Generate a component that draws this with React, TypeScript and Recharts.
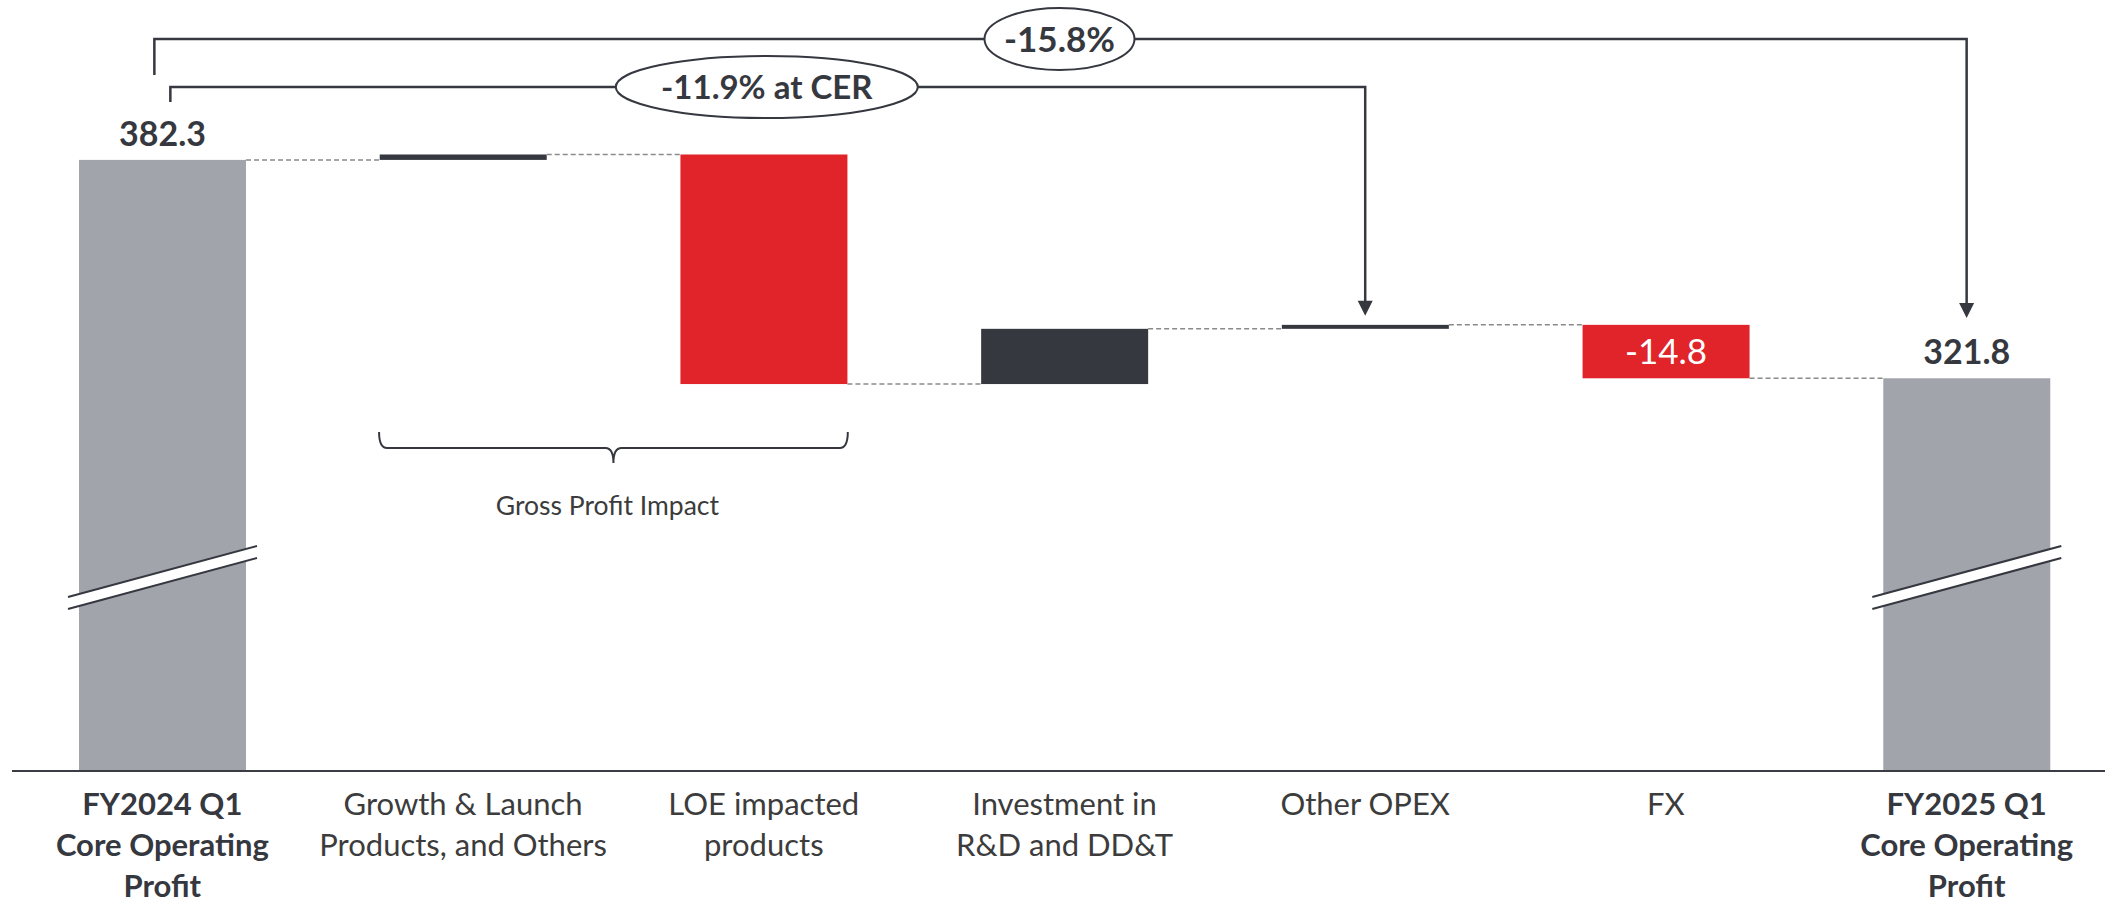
import React from "react";
import {
  BarChart,
  Bar,
  XAxis,
  YAxis,
  LabelList,
  ReferenceLine,
  ReferenceDot,
} from "recharts";

const categories = [
  "FY2024 Q1\nCore Operating\nProfit",
  "Growth & Launch\nProducts, and Others",
  "LOE impacted\nproducts",
  "Investment in\nR&D and DD&T",
  "Other OPEX",
  "FX",
  "FY2025 Q1\nCore Operating\nProfit",
];
const kinds = ["total", "delta", "delta", "delta", "delta", "delta", "total"];
const values = [382.3, 1.5, -63.6, 15.3, 1.1, -14.8, 321.8];
const valueLabels = ["382.3", "", "", "", "", "-14.8", "321.8"];

// axis is broken: the bottom of the plot is not zero
const yDomain = [213, 426.6];

const totalChange = { from: 0, to: 6, label: "-15.8%", level: 415.8, tip: 338.5 };
const cerChange = { from: 0, to: 4, label: "-11.9% at CER", level: 402.5, tip: 339.1 };
const grossImpact = { from: 1, to: 2, label: "Gross Profit Impact", level: 302.5 };

const FONT = "Lato, 'Open Sans', sans-serif";
const DARK = "#363840";
const GRAY = "#a2a4ac";
const RED = "#e1232a";
const GAP = 67;

let running = 0;
const data = categories.map((name, i) => {
  const v = values[i];
  if (kinds[i] === "total") {
    running = v;
    return { name, range: [yDomain[0], v], kind: "total", up: true, fill: GRAY };
  }
  const start = running;
  running += v;
  return {
    name,
    range: [Math.min(start, running), Math.max(start, running)],
    kind: "delta",
    up: v >= 0,
    fill: v >= 0 ? DARK : RED,
  };
});

function norm(p: any) {
  const top = Math.min(p.y, p.y + p.height);
  const h = Math.abs(p.height);
  return { x: p.x, w: p.width, top, h };
}

function WaterfallBar(props: any) {
  const { payload, index } = props;
  const { x, w, top, h } = norm(props);
  const endY = payload.kind === "total" || payload.up ? top : top + h;
  let brk = null;
  if (payload.kind === "total") {
    const cy = top + h - 193.5;
    const l = x - 11;
    const r = x + w + 11;
    const u1 = cy - 6 + 25.5;
    const u2 = cy - 6 - 25.5;
    brk = (
      <g>
        <polygon points={`${l},${u1} ${r},${u2} ${r},${u2 + 12} ${l},${u1 + 12}`} fill="#fff" />
        <line x1={l} y1={u1} x2={r} y2={u2} stroke={DARK} strokeWidth={2} />
        <line x1={l} y1={u1 + 12} x2={r} y2={u2 + 12} stroke={DARK} strokeWidth={2} />
      </g>
    );
  }
  return (
    <g>
      <rect x={x} y={top} width={w} height={Math.max(h, 1)} fill={payload.fill} />
      {brk}
      {index < data.length - 1 && (
        <line
          x1={x + w}
          x2={x + w + 2 * GAP}
          y1={endY}
          y2={endY}
          stroke="#8a8a8a"
          strokeWidth={1.5}
          strokeDasharray="5 3"
        />
      )}
    </g>
  );
}

function ValueLabel(props: any) {
  const idx = props.index;
  const text = valueLabels[idx];
  if (!text) return null;
  const box = props.viewBox && props.viewBox.width != null ? props.viewBox : props;
  const { x, w, top, h } = norm(box);
  const cx = x + w / 2;
  if (kinds[idx] === "total") {
    return (
      <text x={cx} y={top - 14} textAnchor="middle" fontFamily={FONT} fontWeight={700} fontSize={34} fill={DARK}>
        {text}
      </text>
    );
  }
  return (
    <text x={cx} y={top + h / 2 + 12} textAnchor="middle" fontFamily={FONT} fontSize={35} fill="#fff">
      {text}
    </text>
  );
}

function CategoryTick(props: any) {
  const { x, y, payload, index } = props;
  const lines = String(payload.value).split("\n");
  const bold = kinds[index] === "total";
  return (
    <text
      x={x}
      y={y}
      textAnchor="middle"
      fontFamily={FONT}
      fontSize={31}
      fontWeight={bold ? 700 : 400}
      fill={bold ? DARK : "#3c3c3c"}
    >
      {lines.map((l, i) => (
        <tspan key={i} x={x} dy={i === 0 ? 44 : 41}>
          {l}
        </tspan>
      ))}
    </text>
  );
}

function bracket(dropLen: number, dx: number) {
  return (p: any) => {
    const { x1, y1, x2, y2 } = p;
    return (
      <g>
        <path
          d={`M${x1 + dx},${y1 + dropLen} V${y1} H${x2} V${y2 - 14}`}
          fill="none"
          stroke={DARK}
          strokeWidth={2.5}
        />
        <polygon points={`${x2 - 7.5},${y2 - 15} ${x2 + 7.5},${y2 - 15} ${x2},${y2}`} fill={DARK} />
      </g>
    );
  };
}

function ellipseLabel(text: string, rx: number, dx: number, size: number) {
  return (p: any) => (
    <g>
      <ellipse cx={p.cx + dx} cy={p.cy} rx={rx} ry={31} fill="#fff" stroke={DARK} strokeWidth={2} />
      <text
        x={p.cx + dx}
        y={p.cy + size * 0.36}
        textAnchor="middle"
        fontFamily={FONT}
        fontWeight={700}
        fontSize={size}
        fill={DARK}
      >
        {text}
      </text>
    </g>
  );
}

function braceShape(p: any) {
  const { x1, y1, x2 } = p;
  const a = x1 - 84;
  const b = x2 + 84;
  const m = (a + b) / 2;
  const y = y1;
  return (
    <g>
      <path
        d={`M${a},${y - 16} Q${a},${y} ${a + 8},${y} H${m - 8} Q${m},${y} ${m},${y + 15} Q${m},${y} ${m + 8},${y} H${b - 8} Q${b},${y} ${b},${y - 16}`}
        fill="none"
        stroke={DARK}
        strokeWidth={2}
      />
      <text x={m - 6} y={y + 67} textAnchor="middle" fontFamily={FONT} fontSize={26.5} fill="#3c3c3c">
        {grossImpact.label}
      </text>
    </g>
  );
}

export default function App() {
  return (
    <div style={{ position: "absolute", left: 0, top: 0, width: 2105, height: 903, overflow: "hidden", background: "#fff" }}>
      <BarChart
        width={2117}
        height={903}
        data={data}
        margin={{ top: 0, right: 0, left: 12, bottom: 0 }}
        barCategoryGap={GAP}
      >
        <XAxis
          dataKey="name"
          interval={0}
          height={132}
          tickLine={false}
          tickSize={0}
          tickMargin={0}
          axisLine={{ stroke: "#3a3d44", strokeWidth: 2 }}
          tick={<CategoryTick />}
        />
        <YAxis hide domain={yDomain} allowDataOverflow />
        <Bar dataKey="range" isAnimationActive={false} shape={<WaterfallBar />}>
          <LabelList dataKey="range" content={<ValueLabel />} />
        </Bar>
        <ReferenceLine
          segment={[
            { x: categories[totalChange.from], y: totalChange.level },
            { x: categories[totalChange.to], y: totalChange.tip },
          ]}
          shape={bracket(36, -8)}
        />
        <ReferenceLine
          segment={[
            { x: categories[cerChange.from], y: cerChange.level },
            { x: categories[cerChange.to], y: cerChange.tip },
          ]}
          shape={bracket(15, 8)}
        />
        <ReferenceLine
          segment={[
            { x: categories[grossImpact.from], y: grossImpact.level },
            { x: categories[grossImpact.to], y: grossImpact.level },
          ]}
          shape={braceShape}
        />
        <ReferenceDot x={categories[3]} y={totalChange.level} r={1} shape={ellipseLabel(totalChange.label, 75, -5, 35)} />
        <ReferenceDot x={categories[2]} y={cerChange.level} r={1} shape={ellipseLabel(cerChange.label, 151, 3, 33)} />
      </BarChart>
    </div>
  );
}
